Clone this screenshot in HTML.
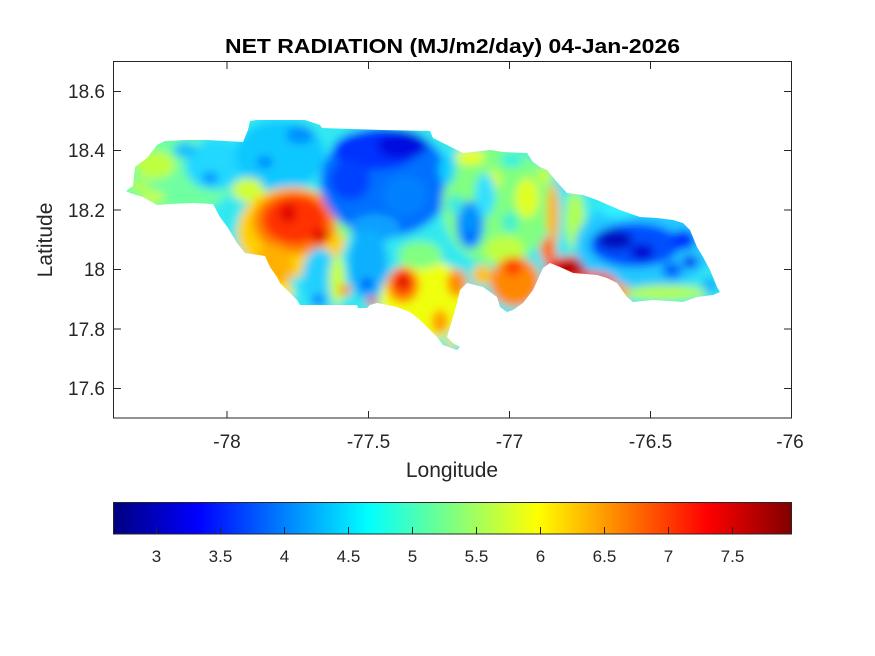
<!DOCTYPE html>
<html><head><meta charset="utf-8"><style>
html,body{margin:0;padding:0;background:#fff;}
svg{display:block;}
text{font-family:"Liberation Sans",Arial,sans-serif;fill:#262626;}
</style></head><body>
<svg width="875" height="656" viewBox="0 0 875 656" xmlns="http://www.w3.org/2000/svg">
<defs>
<clipPath id="jam">
<polygon points="126,191 133,186 135,167 147,158 157,145 165,141 187,140 207,140 243,142 248,130 250,121 257,120 305,120 320,125 322,128 383,130 430,131 433,138 447,145 463,153 490,150 503,152 527,153 533,162 540,167 547,170 557,182 567,193 583,195 597,200 620,210 640,217 657,218 673,220 683,223 690,230 697,247 703,257 710,270 717,287 720,292 713,295 697,297 683,302 653,300 633,302 627,297 617,283 607,278 597,275 573,273 560,267 550,263 543,268 533,290 523,303 513,310 507,312 500,307 497,297 483,287 467,283 460,290 457,303 453,317 450,327 447,337 453,343 460,347 457,350 443,345 437,337 430,330 420,320 410,312 397,307 377,303 370,305 367,308 358,308 357,305 300,305 297,300 287,290 280,283 277,277 270,267 265,256 245,253 237,243 228,228 220,217 213,204 193,203 170,204 157,205 143,197 130,193"/>
</clipPath>
<filter id="bl" filterUnits="userSpaceOnUse" x="60" y="60" width="720" height="340">
<feGaussianBlur stdDeviation="4.5"/>
</filter>
<linearGradient id="jet" x1="0" y1="0" x2="1" y2="0">
<stop offset="0" stop-color="#000080"/>
<stop offset="0.125" stop-color="#0000ff"/>
<stop offset="0.375" stop-color="#00ffff"/>
<stop offset="0.625" stop-color="#ffff00"/>
<stop offset="0.875" stop-color="#ff0000"/>
<stop offset="1" stop-color="#800000"/>
</linearGradient>
</defs>
<rect width="875" height="656" fill="#fff"/>

<g clip-path="url(#jam)">
<g filter="url(#bl)">
<rect x="100" y="100" width="650" height="270" fill="#30e8f0"/>
<!-- west -->
<ellipse cx="175" cy="175" rx="60" ry="40" fill="#70ffa0"/>
<ellipse cx="155" cy="165" rx="20" ry="14" fill="#c0ff40"/>
<ellipse cx="140" cy="186" rx="10" ry="7" fill="#b0ff50"/>
<ellipse cx="153" cy="197" rx="12" ry="6" fill="#c8ff40"/>
<ellipse cx="215" cy="165" rx="30" ry="25" fill="#20d8ff"/>
<ellipse cx="210" cy="178" rx="8" ry="6" fill="#0090ff"/>
<ellipse cx="185" cy="150" rx="12" ry="8" fill="#10c0ff"/>
<ellipse cx="280" cy="155" rx="45" ry="35" fill="#10c8ff"/>
<ellipse cx="300" cy="135" rx="14" ry="9" fill="#0090ff"/>
<ellipse cx="265" cy="162" rx="8" ry="6" fill="#0088ff"/>
<ellipse cx="248" cy="190" rx="16" ry="12" fill="#d0ff30"/>
<!-- red blob west -->
<ellipse cx="292" cy="232" rx="55" ry="45" fill="#ffd000"/>
<ellipse cx="295" cy="222" rx="42" ry="32" fill="#ff8000"/>
<ellipse cx="295" cy="220" rx="32" ry="24" fill="#ff3000"/>
<ellipse cx="288" cy="213" rx="8" ry="10" fill="#e00000"/>
<ellipse cx="320" cy="236" rx="8" ry="8" fill="#e00000"/>
<ellipse cx="272" cy="270" rx="20" ry="25" fill="#ffb000"/>
<ellipse cx="283" cy="292" rx="10" ry="10" fill="#ffe000"/>
<ellipse cx="320" cy="278" rx="18" ry="30" fill="#20d0ff"/>
<ellipse cx="318" cy="300" rx="6" ry="5" fill="#0060ff"/>
<ellipse cx="337" cy="280" rx="8" ry="25" fill="#c8ff38"/>
<ellipse cx="345" cy="290" rx="6" ry="6" fill="#ff9000"/>
<ellipse cx="345" cy="218" rx="10" ry="20" fill="#80ff80"/>
<!-- central blue -->
<ellipse cx="385" cy="182" rx="65" ry="55" fill="#0070ff"/>
<ellipse cx="375" cy="150" rx="42" ry="20" fill="#0030ff"/>
<ellipse cx="402" cy="145" rx="25" ry="14" fill="#0010e0"/>
<ellipse cx="350" cy="180" rx="20" ry="20" fill="#0040ff"/>
<ellipse cx="405" cy="195" rx="22" ry="20" fill="#0080ff"/>
<ellipse cx="375" cy="228" rx="25" ry="14" fill="#10a0ff"/>
<ellipse cx="368" cy="265" rx="20" ry="35" fill="#10b0ff"/>
<ellipse cx="367" cy="284" rx="6" ry="6" fill="#0050ff"/>
<ellipse cx="372" cy="301" rx="6" ry="4" fill="#ff2000"/>
<!-- south central -->
<ellipse cx="425" cy="300" rx="45" ry="40" fill="#f0ff10"/>
<ellipse cx="420" cy="255" rx="22" ry="14" fill="#80ff80"/>
<ellipse cx="403" cy="285" rx="16" ry="18" fill="#ff8000"/>
<ellipse cx="403" cy="282" rx="10" ry="12" fill="#ff3000"/>
<ellipse cx="403" cy="282" rx="5" ry="6" fill="#d00000"/>
<ellipse cx="457" cy="283" rx="10" ry="14" fill="#ff8c00"/>
<ellipse cx="440" cy="322" rx="8" ry="12" fill="#ff9800"/>
<ellipse cx="452" cy="342" rx="8" ry="5" fill="#ffe000"/>
<!-- central right -->
<ellipse cx="497" cy="205" rx="55" ry="60" fill="#80ff80"/>
<ellipse cx="470" cy="157" rx="15" ry="8" fill="#e8ff10"/>
<ellipse cx="492" cy="180" rx="10" ry="10" fill="#d0ff30"/>
<ellipse cx="527" cy="198" rx="12" ry="20" fill="#e0ff20"/>
<ellipse cx="505" cy="250" rx="20" ry="14" fill="#c0ff40"/>
<ellipse cx="470" cy="225" rx="14" ry="24" fill="#0090ff"/>
<ellipse cx="470" cy="237" rx="5" ry="5" fill="#0050ff"/>
<ellipse cx="485" cy="195" rx="10" ry="22" fill="#30e0ff"/>
<ellipse cx="447" cy="170" rx="8" ry="15" fill="#10d0ff"/>
<ellipse cx="512" cy="160" rx="12" ry="7" fill="#30f0e0"/>
<ellipse cx="510" cy="222" rx="8" ry="10" fill="#40f0d0"/>
<ellipse cx="455" cy="205" rx="8" ry="10" fill="#40e8e0"/>
<ellipse cx="553" cy="215" rx="6" ry="32" fill="#ffb000"/>
<ellipse cx="548" cy="250" rx="8" ry="12" fill="#ff7000"/>
<ellipse cx="545" cy="175" rx="8" ry="10" fill="#c0ff40"/>
<!-- kingston -->
<ellipse cx="515" cy="282" rx="25" ry="25" fill="#ff8800"/>
<ellipse cx="513" cy="267" rx="9" ry="9" fill="#ff4000"/>
<ellipse cx="482" cy="275" rx="10" ry="10" fill="#ffc000"/>
<ellipse cx="570" cy="268" rx="25" ry="12" fill="#ff1000"/>
<ellipse cx="572" cy="267" rx="16" ry="7" fill="#b00000"/>
<!-- east -->
<ellipse cx="575" cy="220" rx="10" ry="30" fill="#b0ff50"/>
<ellipse cx="645" cy="245" rx="70" ry="45" fill="#20c8ff"/>
<ellipse cx="620" cy="210" rx="20" ry="8" fill="#30f0ff"/>
<ellipse cx="635" cy="245" rx="45" ry="22" fill="#0050ff"/>
<ellipse cx="615" cy="240" rx="18" ry="10" fill="#0010c0"/>
<ellipse cx="642" cy="252" rx="12" ry="8" fill="#0000d0"/>
<ellipse cx="683" cy="240" rx="12" ry="10" fill="#0030ff"/>
<ellipse cx="690" cy="262" rx="8" ry="6" fill="#0020f0"/>
<ellipse cx="672" cy="270" rx="10" ry="8" fill="#0060ff"/>
<ellipse cx="665" cy="293" rx="42" ry="8" fill="#b0ff50"/>
<ellipse cx="595" cy="283" rx="22" ry="11" fill="#ff5000"/>
<ellipse cx="617" cy="292" rx="12" ry="9" fill="#ffa000"/>
<ellipse cx="710" cy="285" rx="8" ry="8" fill="#10b0ff"/>
</g>
</g>

<rect x="113.5" y="61.5" width="678" height="356.5" fill="none" stroke="#262626" stroke-width="1"/>
<g stroke="#262626" stroke-width="1">
<line x1="227" y1="418" x2="227" y2="411"/><line x1="227" y1="62" x2="227" y2="69"/>
<line x1="368.5" y1="418" x2="368.5" y2="411"/><line x1="368.5" y1="62" x2="368.5" y2="69"/>
<line x1="509.5" y1="418" x2="509.5" y2="411"/><line x1="509.5" y1="62" x2="509.5" y2="69"/>
<line x1="650.5" y1="418" x2="650.5" y2="411"/><line x1="650.5" y1="62" x2="650.5" y2="69"/>
<line x1="114" y1="388.5" x2="121" y2="388.5"/><line x1="791" y1="388.5" x2="784" y2="388.5"/>
<line x1="114" y1="329" x2="121" y2="329"/><line x1="791" y1="329" x2="784" y2="329"/>
<line x1="114" y1="269.5" x2="121" y2="269.5"/><line x1="791" y1="269.5" x2="784" y2="269.5"/>
<line x1="114" y1="210" x2="121" y2="210"/><line x1="791" y1="210" x2="784" y2="210"/>
<line x1="114" y1="150.5" x2="121" y2="150.5"/><line x1="791" y1="150.5" x2="784" y2="150.5"/>
<line x1="114" y1="91.5" x2="121" y2="91.5"/><line x1="791" y1="91.5" x2="784" y2="91.5"/>
</g>

<g font-size="19" text-anchor="end">
<text x="105" y="98">18.6</text>
<text x="105" y="157">18.4</text>
<text x="105" y="217">18.2</text>
<text x="105" y="276">18</text>
<text x="105" y="336">17.8</text>
<text x="105" y="395">17.6</text>
</g>
<g font-size="19" text-anchor="middle">
<text x="227" y="448">-78</text>
<text x="368.5" y="448">-77.5</text>
<text x="509.5" y="448">-77</text>
<text x="650.5" y="448">-76.5</text>
<text x="790" y="448">-76</text>
</g>
<text x="452" y="477" font-size="21" text-anchor="middle">Longitude</text>
<text x="0" y="0" font-size="21" text-anchor="middle" transform="translate(52,240) rotate(-90)">Latitude</text>
<text x="452.5" y="53" font-size="20" font-weight="bold" text-anchor="middle" textLength="455" lengthAdjust="spacingAndGlyphs" style="fill:#000">NET RADIATION (MJ/m2/day) 04-Jan-2026</text>

<rect x="114" y="502.5" width="678" height="31.5" fill="url(#jet)"/>
<rect x="113.5" y="502.5" width="678" height="31.5" fill="none" stroke="#262626" stroke-width="1"/>
<g stroke="#262626" stroke-width="1">
<line x1="156.5" y1="534" x2="156.5" y2="527"/>
<line x1="220.5" y1="534" x2="220.5" y2="527"/>
<line x1="284.5" y1="534" x2="284.5" y2="527"/>
<line x1="348.5" y1="534" x2="348.5" y2="527"/>
<line x1="412.5" y1="534" x2="412.5" y2="527"/>
<line x1="476.5" y1="534" x2="476.5" y2="527"/>
<line x1="540.5" y1="534" x2="540.5" y2="527"/>
<line x1="604.5" y1="534" x2="604.5" y2="527"/>
<line x1="668.5" y1="534" x2="668.5" y2="527"/>
<line x1="732.5" y1="534" x2="732.5" y2="527"/>
</g>
<g font-size="17" text-anchor="middle">
<text x="156.5" y="562">3</text>
<text x="220.5" y="562">3.5</text>
<text x="284.5" y="562">4</text>
<text x="348.5" y="562">4.5</text>
<text x="412.5" y="562">5</text>
<text x="476.5" y="562">5.5</text>
<text x="540.5" y="562">6</text>
<text x="604.5" y="562">6.5</text>
<text x="668.5" y="562">7</text>
<text x="732.5" y="562">7.5</text>
</g>
</svg>
</body></html>
